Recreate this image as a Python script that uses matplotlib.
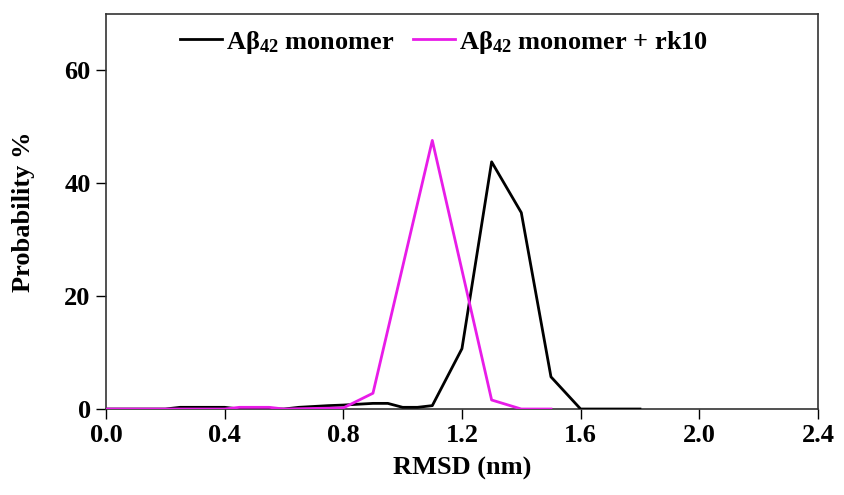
import numpy as np
import matplotlib.pyplot as plt

plt.rcParams['font.family'] = ['Liberation Serif', 'DejaVu Serif']
plt.rcParams['font.weight'] = 'bold'
plt.rcParams['mathtext.fontset'] = 'custom'
plt.rcParams['mathtext.rm'] = 'Liberation Serif:bold'
plt.rcParams['mathtext.bf'] = 'Liberation Serif:bold'
plt.rcParams['mathtext.default'] = 'bf'

# RMSD distribution (nm) vs probability (%)
rmsd_mono = [0.0, 0.2, 0.25, 0.4, 0.45, 0.6, 0.65, 0.75, 0.8, 0.9, 0.95,
             1.0, 1.05, 1.1, 1.2, 1.3, 1.4, 1.5, 1.6, 1.8]
prob_mono = [0, 0, 0.3, 0.3, 0, 0, 0.3, 0.6, 0.7, 1.0, 1.0,
             0.3, 0.3, 0.6, 10.7, 43.8, 34.8, 5.7, 0, 0]

rmsd_rk10 = [0.0, 0.4, 0.45, 0.55, 0.6, 0.8, 0.9, 1.1, 1.3, 1.4, 1.5]
prob_rk10 = [0, 0, 0.3, 0.3, 0, 0.2, 2.8, 47.6, 1.6, 0, 0]

labels = [r"A$\beta_{42}$ monomer", r"A$\beta_{42}$ monomer + rk10"]
xticks = [0.0, 0.4, 0.8, 1.2, 1.6, 2.0, 2.4]
yticks = [0, 20, 40, 60]

fig = plt.figure(figsize=(8.45, 4.95), dpi=100)
ax = fig.add_axes([0.1254, 0.1737, 0.8426, 0.798])

ax.plot(rmsd_mono, prob_mono, color='black', lw=2, label=labels[0], zorder=3)
ax.plot(rmsd_rk10, prob_rk10, color='#e81ce8', lw=2, label=labels[1], zorder=4)

ax.set_xlim(0, 2.4)
ax.set_ylim(0, 70)
ax.set_xticks(xticks)
ax.set_xticklabels([f"{t:.1f}" for t in xticks])
ax.set_yticks(yticks)
ax.tick_params(direction='out', length=7, width=1, labelsize=19, pad=4)
for s in ax.spines.values():
    s.set_linewidth(1.2)
    s.set_color('#333333')

ax.set_xlabel("RMSD (nm)", fontsize=19, fontweight='bold')
ax.set_ylabel("Probability %", fontsize=19, fontweight='bold')
ax.xaxis.set_label_coords(0.5, -0.12)
ax.yaxis.set_label_coords(-0.10, 0.5)

ax.legend(loc='upper center', bbox_to_anchor=(0.475, 1.0), ncol=2, frameon=False,
          fontsize=19, handlelength=1.6, handletextpad=0.15, columnspacing=0.7,
          borderaxespad=0.15)

fig.savefig("out.png", dpi=100)
